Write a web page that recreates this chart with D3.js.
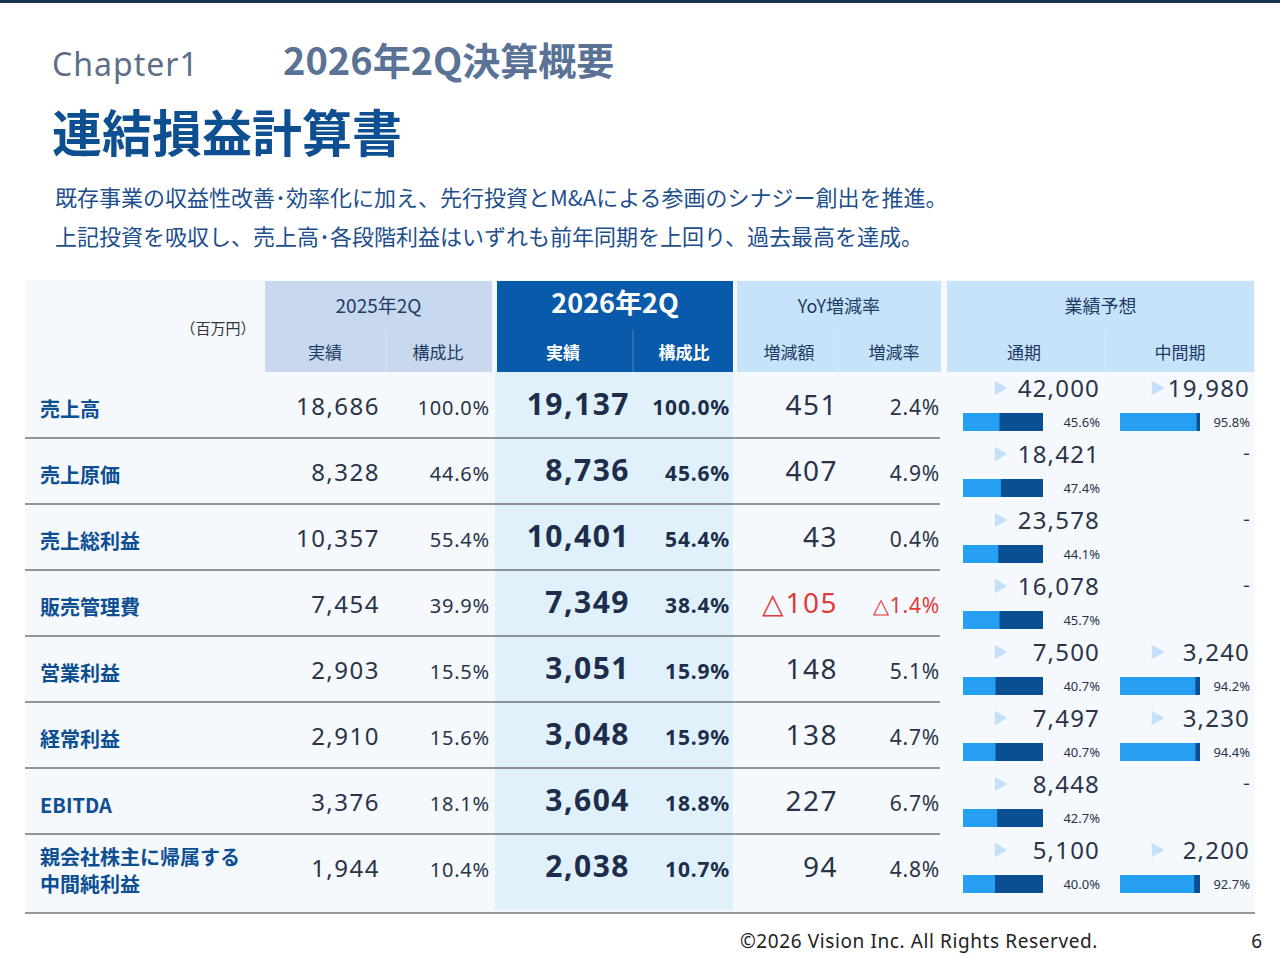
<!DOCTYPE html>
<html><head><meta charset="utf-8">
<script src="https://cdn.jsdelivr.net/npm/d3@7"></script>
<style>body{margin:0;background:#fff;font-family:"Noto Sans CJK JP","Noto Sans",sans-serif;}</style>
</head><body><div id="chart"></div>
<script>
var rows = [
  { name: ["売上高"], p: 18686, pr: "100.0%", c: 19137, cr: "100.0%", d: "451", dr: "2.4%", full: 42000, fp: 45.6, half: 19980, hp: 95.8 },
  { name: ["売上原価"], p: 8328, pr: "44.6%", c: 8736, cr: "45.6%", d: "407", dr: "4.9%", full: 18421, fp: 47.4, half: null },
  { name: ["売上総利益"], p: 10357, pr: "55.4%", c: 10401, cr: "54.4%", d: "43", dr: "0.4%", full: 23578, fp: 44.1, half: null },
  { name: ["販売管理費"], p: 7454, pr: "39.9%", c: 7349, cr: "38.4%", d: "△105", dr: "△1.4%", neg: true, full: 16078, fp: 45.7, half: null },
  { name: ["営業利益"], p: 2903, pr: "15.5%", c: 3051, cr: "15.9%", d: "148", dr: "5.1%", full: 7500, fp: 40.7, half: 3240, hp: 94.2 },
  { name: ["経常利益"], p: 2910, pr: "15.6%", c: 3048, cr: "15.9%", d: "138", dr: "4.7%", full: 7497, fp: 40.7, half: 3230, hp: 94.4 },
  { name: ["EBITDA"], p: 3376, pr: "18.1%", c: 3604, cr: "18.8%", d: "227", dr: "6.7%", full: 8448, fp: 42.7, half: null },
  { name: ["親会社株主に帰属する", "中間純利益"], p: 1944, pr: "10.4%", c: 2038, cr: "10.7%", d: "94", dr: "4.8%", full: 5100, fp: 40.0, half: 2200, hp: 92.7 }
];
var fmt = d3.format(",");
var W = 1280, H = 960;
var svg = d3.select("#chart").append("svg").attr("width", W).attr("height", H);
var navy = "#1f3b63", blue = "#0d4f91";

svg.append("rect").attr("width", W).attr("height", 3).attr("fill", "#1c3454");
svg.append("text").attr("x", 52).attr("y", 76).attr("font-size", 32).attr("fill", "#5d6f86").attr("letter-spacing", 1).attr("font-family", "'Noto Sans', sans-serif").text("Chapter1");
svg.append("text").attr("x", 283).attr("y", 75).attr("font-size", 38).attr("font-weight", 700).attr("fill", "#5a7296").text("2026年2Q決算概要");
svg.append("text").attr("x", 52).attr("y", 152).attr("font-size", 50).attr("font-weight", 700).attr("fill", blue).text("連結損益計算書");
svg.append("text").attr("x", 55).attr("y", 206).attr("font-size", 22).attr("fill", "#1e4f8c").text("既存事業の収益性改善･効率化に加え、先行投資とM&Aによる参画のシナジー創出を推進。");
svg.append("text").attr("x", 55).attr("y", 245).attr("font-size", 22).attr("fill", "#1e4f8c").text("上記投資を吸収し、売上高･各段階利益はいずれも前年同期を上回り、過去最高を達成。");

// table background
svg.append("rect").attr("x", 25).attr("y", 280).attr("width", 1230).attr("height", 632).attr("fill", "#f5f9fe");

var y = d3.scaleBand().domain(d3.range(rows.length)).range([372, 900]);
var bar = d3.scaleLinear().domain([0, 100]).range([0, 80]);

// header blocks
var hdr = [
  { x: 265, w: 227, fill: "#c8d8ee", t: "2025年2Q", col: navy, fs: 19, subs: [["実績", 325], ["構成比", 438]], split: 386 },
  { x: 497, w: 236, fill: "#0a5aab", t: "2026年2Q", col: "#fff", fs: 27, bold: true, subs: [["実績", 563], ["構成比", 684]], split: 633 },
  { x: 737, w: 204, fill: "#c7e3fa", t: "YoY増減率", col: navy, fs: 18, subs: [["増減額", 789], ["増減率", 894]], split: 838 },
  { x: 947, w: 307, fill: "#c7e3fa", t: "業績予想", col: navy, fs: 18, subs: [["通期", 1024], ["中間期", 1180]], split: 1105 }
];
hdr.forEach(function (h) {
  svg.append("rect").attr("x", h.x).attr("y", 281).attr("width", h.w).attr("height", 91).attr("fill", h.fill);
  svg.append("line").attr("x1", h.split).attr("x2", h.split).attr("y1", 330).attr("y2", 372).attr("stroke", "#fff").attr("stroke-opacity", 0.25);
  svg.append("text").attr("x", h.x + h.w / 2).attr("y", 313).attr("text-anchor", "middle").attr("font-size", h.fs)
    .attr("font-weight", h.bold ? 700 : 400).attr("fill", h.col).text(h.t);
  h.subs.forEach(function (s) {
    svg.append("text").attr("x", s[1]).attr("y", 359).attr("text-anchor", "middle").attr("font-size", 17)
      .attr("font-weight", h.bold ? 700 : 400).attr("fill", h.col).text(s[0]);
  });
});
svg.append("text").attr("x", 218).attr("y", 334).attr("text-anchor", "middle").attr("font-size", 15).attr("fill", "#333").text("（百万円）");

// 2026 column band
svg.append("rect").attr("x", 495).attr("y", 372).attr("width", 238).attr("height", 538).attr("fill", "#e1f1fc");

var num = "'Noto Sans', sans-serif";
var g = svg.selectAll(".row").data(rows).enter().append("g")
  .attr("transform", function (d, i) { return "translate(0," + y(i) + ")"; });
var bw = y.bandwidth();

g.filter(function (d, i) { return i < rows.length - 1; }).append("line")
  .attr("x1", 25).attr("x2", 940).attr("y1", bw).attr("y2", bw).attr("stroke", "#333").attr("stroke-width", 1.2);

g.each(function (d) {
  var s = d3.select(this);
  var mid = bw / 2 + 10;
  var t = s.append("text").attr("x", 40).attr("font-size", 20).attr("font-weight", 700).attr("fill", blue);
  if (d.name.length === 1) t.attr("y", mid + 2).text(d.name[0]);
  else d.name.forEach(function (n, k) { t.append("tspan").attr("x", 40).attr("y", mid - 12 + k * 27).text(n); });
  function cell(x, txt, fs, col, wt) {
    s.append("text").attr("x", x).attr("y", mid).attr("text-anchor", "end").attr("font-family", num)
      .attr("letter-spacing", fs > 22 ? 1.5 : 0.8)
      .attr("font-size", fs).attr("fill", col).attr("font-weight", wt || 400).text(txt);
  }
  cell(380, fmt(d.p), 24, "#2a3446");
  cell(490, d.pr, 20, "#2a3446");
  cell(630, fmt(d.c), 30, "#1d2d4a", 700);
  cell(730, d.cr, 21, "#1d2d4a", 700);
  cell(838, d.d, 28, d.neg ? "#e23a3a" : "#2a3446");
  cell(940, d.dr, 21, d.neg ? "#e23a3a" : "#2a3446");

  function forecast(x0, right, val, pct) {
    s.append("path").attr("d", d3.symbol(d3.symbolTriangle, 90)()).attr("fill", "#c3e1fa")
      .attr("transform", "translate(" + (x0 + 36) + ",16) rotate(90)");
    s.append("text").attr("x", right).attr("y", 25).attr("text-anchor", "end").attr("font-family", num)
      .attr("letter-spacing", 1.2).attr("font-size", 24).attr("fill", "#2a3446").text(fmt(val));
    s.append("rect").attr("x", x0).attr("y", 41).attr("width", bar(100)).attr("height", 18).attr("fill", "#0b4f93");
    s.append("rect").attr("x", x0).attr("y", 41).attr("width", bar(pct)).attr("height", 18).attr("fill", "#259ff2");
    s.append("text").attr("x", right).attr("y", 55).attr("text-anchor", "end").attr("font-family", num)
      .attr("font-size", 13).attr("fill", "#2a3446").text(pct.toFixed(1) + "%");
  }
  forecast(963, 1100, d.full, d.fp);
  if (d.half !== null) forecast(1120, 1250, d.half, d.hp);
  else s.append("text").attr("x", 1250).attr("y", 22).attr("text-anchor", "end").attr("font-size", 20).attr("fill", "#2a3446").text("-");
});

svg.append("line").attr("x1", 25).attr("x2", 1255).attr("y1", 913).attr("y2", 913).attr("stroke", "#333").attr("stroke-width", 1.2);
svg.append("text").attr("x", 1098).attr("y", 948).attr("text-anchor", "end").attr("font-family", num).attr("letter-spacing", 0.6).attr("font-size", 19).attr("fill", "#222").text("©2026 Vision Inc. All Rights Reserved.");
svg.append("text").attr("x", 1262).attr("y", 948).attr("text-anchor", "end").attr("font-family", num).attr("font-size", 19).attr("fill", "#222").text("6");
</script></body></html>
